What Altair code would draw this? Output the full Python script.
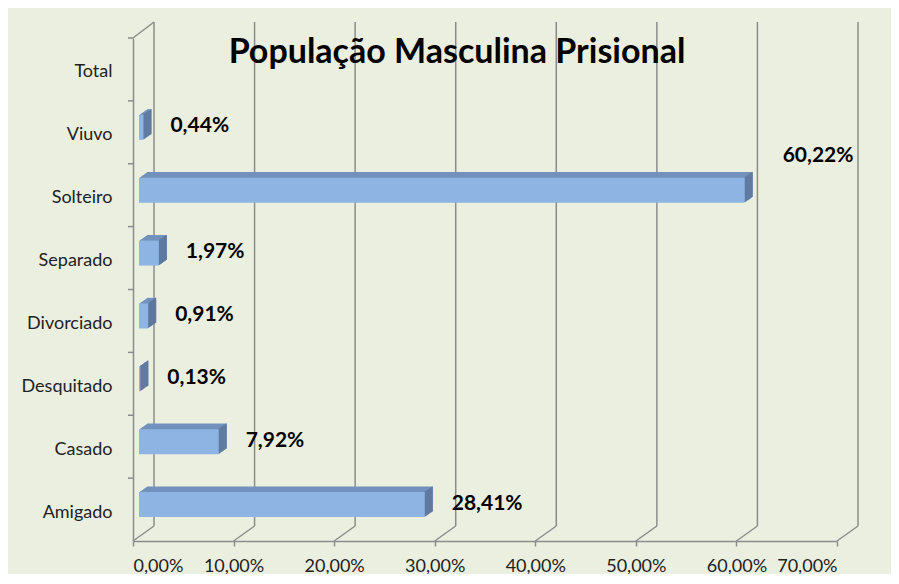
import altair as alt
import pandas as pd

title_text = "População Masculina Prisional"
categories = ["Total", "Viuvo", "Solteiro", "Separado", "Divorciado", "Desquitado", "Casado", "Amigado"]
values = [None, 0.44, 60.22, 1.97, 0.91, 0.13, 7.92, 28.41]
tick_values = [0, 10, 20, 30, 40, 50, 60, 70]

FRONT = "#8DB4E2"
TOP = "#7391BD"
SIDE = "#5B7599"
GRID = "#8C8C8C"
BG = "#EBEFDF"
FONT = "Lato"

def fmt(v):
    return f"{v:.2f}".replace(".", ",") + "%"

bars_df = pd.DataFrame(
    [{"cat": c, "v": v, "label": fmt(v)} for c, v in zip(categories, values) if v is not None]
)
cat_df = pd.DataFrame({"cat": categories})
grid_df = pd.DataFrame({"v": tick_values})

W, H = 725, 519
xscale = alt.Scale(domain=[0, 70], range=[0, 704], nice=False, zero=True)
yscale = alt.Scale(domain=categories, range=[16, 519], paddingInner=0, paddingOuter=0)

xaxis = alt.Axis(
    title=None, values=tick_values, grid=False, domain=True, domainColor=GRID, domainWidth=1.5,
    ticks=True, tickColor=GRID, tickSize=5, tickWidth=1.5,
    labelExpr="replace(format(datum.value, '.2f'), '.', ',') + '%'",
    labelFont=FONT, labelFontSize=18, labelColor="#222222", labelPadding=11,
)
yaxis = alt.Axis(
    title=None, grid=False, domain=True, domainColor=GRID, domainWidth=1.5, ticks=False,
    labelFont=FONT, labelFontSize=18, labelColor="#222222", labelPadding=21, labelOffset=3,
)

xenc = alt.X("v:Q", scale=xscale, axis=xaxis)
yenc = alt.Y("cat:N", scale=yscale, axis=yaxis, sort=categories)

layers = []

# back-wall vertical gridlines
layers.append(
    alt.Chart(grid_df).mark_rule(xOffset=21, color=GRID, strokeWidth=1.5).encode(
        x=xenc, y=alt.value(0), y2=alt.value(504)
    )
)
# floor diagonals
layers.append(
    alt.Chart(grid_df).mark_rule(x2Offset=21, color=GRID, strokeWidth=1.5).encode(
        x=xenc, x2="v:Q", y=alt.value(519), y2=alt.value(504)
    )
)
# left wall top diagonal
layers.append(
    alt.Chart(grid_df).transform_filter("datum.v == 0").mark_rule(x2Offset=21, color=GRID, strokeWidth=1.5).encode(
        x=xenc, x2="v:Q", y=alt.value(16), y2=alt.value(0)
    )
)
# left axis ticks at category boundaries
layers.append(
    alt.Chart(cat_df).mark_rule(color=GRID, strokeWidth=1.5).encode(
        y=alt.Y("cat:N", scale=yscale, axis=yaxis, sort=categories, bandPosition=0),
        x=alt.value(-5), x2=alt.value(0),
    )
)

BAR = 25
STEPS = 8
# extrusion (top face colour)
for i in range(1, STEPS + 1):
    layers.append(
        alt.Chart(bars_df).mark_bar(
            size=BAR, color=TOP, xOffset=6 + i, x2Offset=6 + i, yOffset=-5 - 0.7 * i
        ).encode(x=xenc, x2=alt.X2(datum=0), y=yenc)
    )
# side face
for i in range(1, STEPS + 1):
    layers.append(
        alt.Chart(bars_df).mark_bar(
            size=BAR, color=SIDE, xOffset=6 + i - 1, x2Offset=6 + i, yOffset=-5 - 0.7 * i
        ).encode(x=xenc, x2="v:Q", y=yenc)
    )
# front face
layers.append(
    alt.Chart(bars_df).mark_bar(size=BAR, color=FRONT, xOffset=6, x2Offset=6, yOffset=-5).encode(
        x=xenc, x2=alt.X2(datum=0), y=yenc
    )
)

# value labels
layers.append(
    alt.Chart(bars_df).transform_filter("datum.v < 50").mark_text(
        align="left", baseline="middle", dx=33, dy=-6, font=FONT, fontWeight="bold", fontSize=21, color="#000000"
    ).encode(x=xenc, y=yenc, text="label:N")
)
layers.append(
    alt.Chart(bars_df).transform_filter("datum.v >= 50").mark_text(
        align="left", baseline="middle", dx=44, dy=-39, font=FONT, fontWeight="bold", fontSize=21, color="#000000"
    ).encode(x=xenc, y=yenc, text="label:N")
)

# title
layers.append(
    alt.Chart(pd.DataFrame({"t": [title_text]})).mark_text(
        align="center", baseline="middle", font=FONT, fontWeight="bold", fontSize=34, color="#000000"
    ).encode(x=alt.value(324), y=alt.value(31), text="t:N")
)

chart = alt.layer(*layers).properties(
    width=W, height=H,
    autosize=alt.AutoSizeParams(type="none"),
    padding={"left": 125, "top": 14, "right": 33, "bottom": 33},
).configure(background=BG).configure_view(stroke=None)

chart.save("out.html", embed_options={"renderer": "svg", "actions": False})
